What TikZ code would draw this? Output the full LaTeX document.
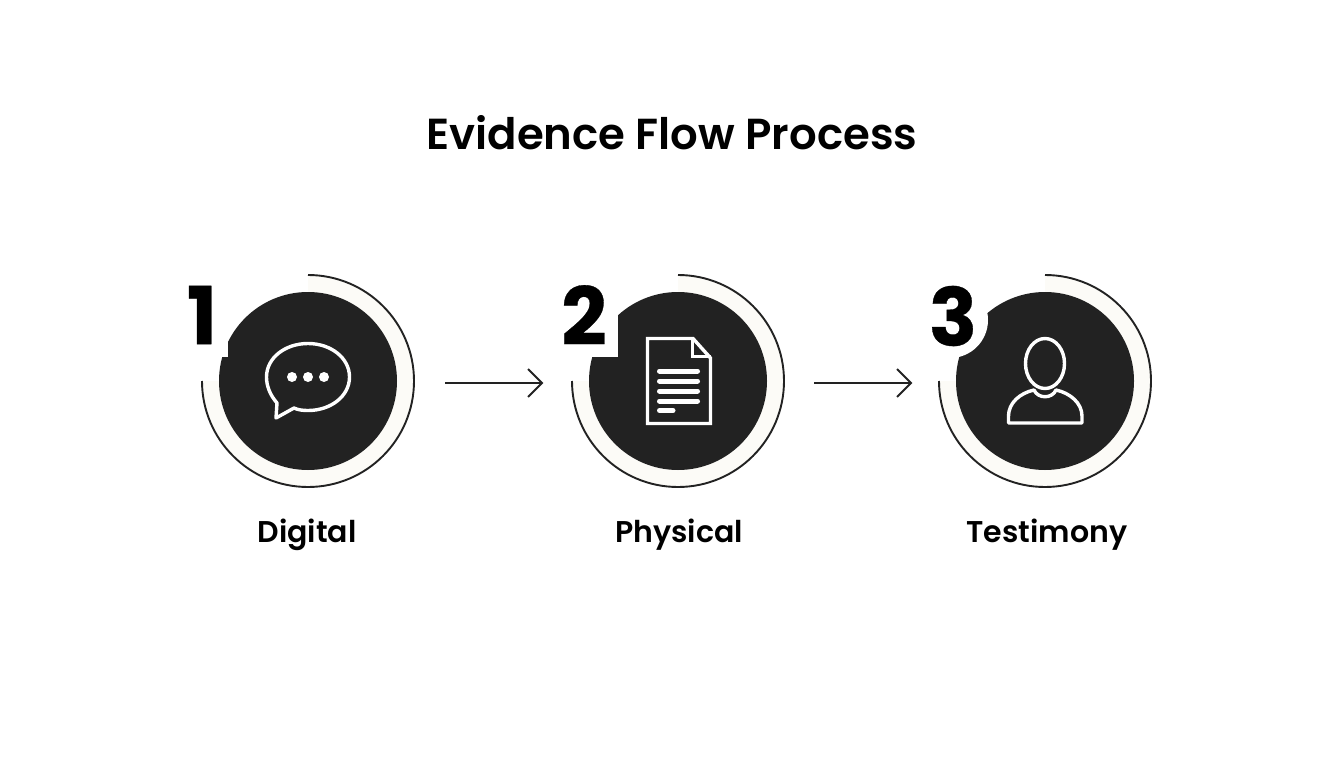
\documentclass[tikz,border=0pt]{standalone}
\usepackage{fontspec}
\setmainfont{Poppins SemiBold}
\newfontfamily\digitfont[FakeBold=0.4]{Poppins Bold}
\definecolor{ink}{HTML}{222222}
\definecolor{ringfill}{HTML}{FCFBF7}
\tikzset{
  disc/.style={fill=ink,draw=none},
  orbit/.style={draw=ink,line width=1.9pt},
  halo/.style={fill=ringfill,draw=none},
  notch/.style={fill=white,draw=none},
  icon/.style={draw=white,line width=3.4pt,line join=round,line cap=round},
  rule/.style={draw=white,line width=5pt,line cap=round},
  flow/.style={draw=ink,line width=2pt},
  caption/.style={font=\fontsize{30}{33}\selectfont,text=black,inner sep=0pt},
  heading/.style={font=\fontsize{43.4}{48}\selectfont,text=black,inner sep=0pt},
  numeral/.style={font=\digitfont\fontsize{80}{90}\selectfont,text=black,inner sep=0pt},
}
\begin{document}
\begin{tikzpicture}[x=1pt,y=-1pt]
\useasboundingbox (0,0) rectangle (1344,768);
\fill[white] (0,0) rectangle (1344,768);
\node[heading] (title) at (672,133) {Evidence Flow Process};
% ---- 1
\fill[halo] (308,381) -- (308,275) arc[start angle=-90,end angle=180,radius=106] -- cycle;
\fill[disc] (308,381) circle[radius=89];
\fill[notch] (212,330) rectangle (228,357);
\draw[orbit] (308,275) arc[start angle=-90,end angle=180,radius=106];
\node[numeral,anchor=center] (n1) at (202,315) {1};
\draw[icon] (277,403) .. controls (270,395) and (266.5,386) .. (266.5,377)
  .. controls (266.5,358) and (285,343.5) .. (308,343.5)
  .. controls (331,343.5) and (349.5,358) .. (349.5,377)
  .. controls (349.5,396) and (331,410.5) .. (308,410.5)
  .. controls (303,410.5) and (298,410) .. (294,408) -- (276,418) -- cycle;
\foreach \px in {292,308,324} \fill[white] (\px,377) circle[radius=5];
% ---- 2
\fill[halo] (678,381) -- (678,275) arc[start angle=-90,end angle=180,radius=106] -- cycle;
\fill[disc] (678,381) circle[radius=89];
\fill[notch] (580,300) rectangle (618,357);
\draw[orbit] (678,275) arc[start angle=-90,end angle=180,radius=106];
\node[numeral,anchor=center] (n2) at (584,315) {2};
\draw[icon,line cap=butt,line join=miter] (647.5,338.5) -- (693,338.5) -- (710.5,358) -- (710.5,423.5) -- (647.5,423.5) -- cycle;
\draw[icon,line cap=butt,line join=miter] (692.5,339) -- (692.5,356.5) -- (710.5,356.5);
\draw[rule] (659.5,371) -- (697.5,371);
\draw[rule] (659.5,381) -- (697.5,381);
\draw[rule] (659.5,391) -- (697.5,391);
\draw[rule] (659.5,401) -- (697.5,401);
\draw[rule] (659.5,410.5) -- (673,410.5);
% ---- 3
\fill[halo] (1045,381) -- (1045,275) arc[start angle=-90,end angle=180,radius=106] -- cycle;
\fill[disc] (1045,381) circle[radius=89];
\fill[notch] (950,320) circle[radius=38];
\draw[orbit] (1045,275) arc[start angle=-90,end angle=180,radius=106];
\node[numeral,anchor=center] (n3) at (953,316) {3};
\draw[icon] (1045,363.5) ellipse[x radius=19.5,y radius=25];
\draw[icon] (1008.5,423) -- (1008.5,416)
  .. controls (1008.5,403) and (1020,393) .. (1034,390)
  .. controls (1038,399) and (1052,399) .. (1056,390)
  .. controls (1070,393) and (1082,403) .. (1082,416)
  -- (1082,423) -- cycle;
% ---- labels
\node[caption] (l1) at (307,535) {Digital};
\node[caption] (l2) at (679,535) {Physical};
\node[caption] (l3) at (1047,535) {Testimony};
% ---- arrows
\coordinate (a1s) at (445,383); \coordinate (a1e) at (542,383);
\coordinate (a2s) at (814,383); \coordinate (a2e) at (911,383);
\draw[flow] (a1s) -- (a1e);
\draw[flow,line join=miter] ([shift={(-14,-14)}]a1e) -- (a1e) -- ([shift={(-14,14)}]a1e);
\draw[flow] (a2s) -- (a2e);
\draw[flow,line join=miter] ([shift={(-14,-14)}]a2e) -- (a2e) -- ([shift={(-14,14)}]a2e);
\end{tikzpicture}
\end{document}
